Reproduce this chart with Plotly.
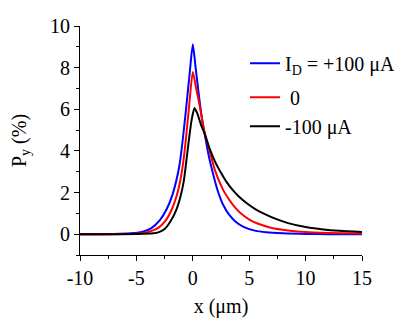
import plotly.graph_objects as go

# I_D = +100 uA
blue_x = [-10, -7, -5.5, -4.5, -3.7, -2.9, -2.3, -1.8, -1.2, -0.9, -0.6, -0.3, 0,
          0.25, 0.5, 0.8, 1.06, 1.4, 1.75, 2.2, 2.7, 3.2, 3.8, 4.5, 5.5, 6.5, 8, 10, 12, 15]
blue_y = [0, 0.01, 0.04, 0.11, 0.28, 0.69, 1.22, 1.9, 3.25, 4.5, 6.0, 7.6, 9.12,
          8.0, 6.85, 5.6, 4.8, 3.8, 3.0, 2.1, 1.4, 0.95, 0.6, 0.35, 0.17, 0.09, 0.04, 0.01, 0, 0]

# I_D = 0
red_x = [-10, -6, -4.5, -3.8, -3.0, -2.4, -1.9, -1.45, -1.1, -0.86, -0.62, -0.33, 0,
         0.3, 0.6, 1.0, 1.5, 1.95, 2.69, 3.3, 3.72, 4.3, 5.05, 5.8, 7, 8.45, 10, 12, 15]
red_y = [0, 0.01, 0.05, 0.13, 0.33, 0.66, 1.15, 1.81, 2.6, 3.41, 4.53, 6.13, 7.79,
         7.0, 6.2, 5.0, 4.0, 3.09, 2.13, 1.6, 1.3, 0.98, 0.69, 0.5, 0.3, 0.18, 0.1, 0.06, 0.03]

# I_D = -100 uA
black_x = [-10, -5, -3.5, -3.0, -2.5, -2.0, -1.5, -1.09, -0.8, -0.62, -0.33, -0.1, 0.15,
           0.4, 0.7, 1.06, 1.5, 2.0, 2.5, 3.0, 3.57, 4.1, 4.76, 5.5, 6.53, 7.42,
           8.45, 10, 11.4, 13, 15]
black_y = [0, 0.01, 0.04, 0.1, 0.25, 0.6, 1.12, 1.81, 2.55, 3.3, 4.6, 5.5, 6.06,
           5.8, 5.3, 4.8, 4.1, 3.45, 2.95, 2.5, 2.1, 1.8, 1.5, 1.22, 0.93, 0.72,
           0.53, 0.34, 0.24, 0.16, 0.1]

x_ticks = [-10, -5, 0, 5, 10, 15]
x_labels = ["-10", "-5", "0", "5", "10", "15"]
y_ticks = [0, 2, 4, 6, 8, 10]
y_labels = ["0", "2", "4", "6", "8", "10"]

series = [
    ("I<sub>D</sub> = +100 μA", blue_x, blue_y, "#0000FF", "top"),
    (" 0", red_x, red_y, "#FF0000", "rest"),
    ("-100 μA", black_x, black_y, "#000000", "rest"),
]

serif = dict(family="'Liberation Serif', serif", size=20, color="black")

fig = go.Figure()
for name, xs, ys, colour, group in series:
    fig.add_trace(go.Scatter(
        x=xs, y=ys, name=name, mode="lines", legendgroup=group,
        line=dict(color=colour, width=2, shape="spline", smoothing=0.6),
    ))

# page body has an 8px margin, so the figure is drawn 8px smaller
fig.update_layout(
    width=407, height=324,
    margin=dict(l=72, r=53, t=18, b=77),
    paper_bgcolor="white",
    plot_bgcolor="white",
    font=serif,
    legend=dict(
        x=0.585, y=0.922, xanchor="left", yanchor="top",
        bgcolor="rgba(0,0,0,0)", font=serif,
        tracegroupgap=5,
    ),
)
fig.update_xaxes(
    range=[-10, 15], tickvals=x_ticks, ticktext=x_labels, tickfont=serif,
    showgrid=False, zeroline=False, automargin=False,
    showline=True, linecolor="black", linewidth=1,
    ticks="outside", ticklen=5, tickcolor="black",
    minor=dict(dtick=2.5, ticks="outside", ticklen=3, tickcolor="black"),
    title=dict(text="x (μm)", standoff=10, font=serif),
)
fig.update_yaxes(
    range=[-1, 10], tickvals=y_ticks, ticktext=y_labels, tickfont=serif,
    showgrid=False, zeroline=False, automargin=False,
    showline=True, linecolor="black", linewidth=1,
    ticks="outside", ticklen=5, tickcolor="black",
    minor=dict(dtick=1, ticks="outside", ticklen=3, tickcolor="black"),
    title=dict(text="P<sub>y</sub> (%)", standoff=18, font=serif),
)

fig.write_html("out.html")
